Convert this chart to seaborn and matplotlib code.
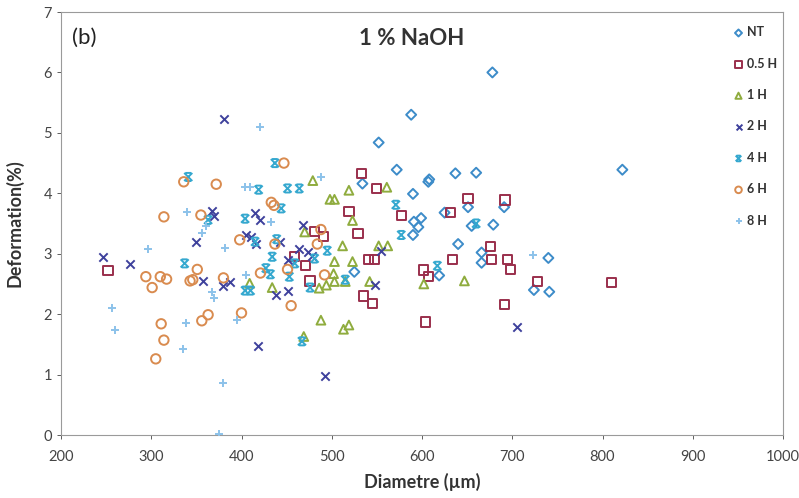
import matplotlib
matplotlib.use("Agg")
import matplotlib.pyplot as plt
from matplotlib.path import Path
import seaborn as sns
import pandas as pd

# ---- data (Diametre µm, Deformation %) ----
nt_x = [678, 588, 552, 572, 534, 637, 660, 607, 608, 590, 822, 591, 599, 596, 590,
        625, 651, 691, 655, 679, 640, 525, 619, 666, 666, 740, 724, 741]
nt_y = [6.00, 5.30, 4.84, 4.39, 4.16, 4.33, 4.34, 4.19, 4.23, 3.99, 4.39, 3.53, 3.59, 3.44, 3.31,
        3.68, 3.77, 3.77, 3.46, 3.48, 3.16, 2.70, 2.64, 3.02, 2.85, 2.93, 2.40, 2.37]

h05_x = [252, 459, 476, 533, 550, 519, 577, 632, 651, 692, 529, 481, 491, 471, 541, 547,
         602, 607, 634, 676, 677, 695, 698, 728, 810, 535, 545, 604, 691]
h05_y = [2.72, 2.96, 2.55, 4.33, 4.08, 3.70, 3.63, 3.68, 3.91, 3.89, 3.33, 3.37, 3.28, 2.81, 2.91, 2.90,
         2.73, 2.62, 2.90, 3.12, 2.91, 2.90, 2.74, 2.54, 2.52, 2.30, 2.17, 1.87, 2.16]

h1_x = [479, 519, 561, 498, 503, 523, 512, 552, 562, 503, 523, 502, 409, 434, 486, 494,
        503, 515, 542, 602, 647, 469, 488, 513, 519, 470]
h1_y = [4.21, 4.05, 4.10, 3.90, 3.90, 3.55, 3.13, 3.13, 3.13, 2.87, 2.87, 2.67, 2.51, 2.44, 2.43, 2.48,
        2.54, 2.54, 2.54, 2.50, 2.55, 1.63, 1.90, 1.75, 1.82, 3.36]

h2_x = [381, 367, 370, 415, 421, 350, 405, 411, 416, 443, 247, 277, 357, 380, 387, 438,
        451, 452, 464, 468, 474, 478, 548, 555, 418, 493, 705]
h2_y = [5.23, 3.70, 3.63, 3.67, 3.56, 3.20, 3.31, 3.28, 3.16, 3.20, 2.94, 2.83, 2.55, 2.47, 2.54, 2.32,
        2.39, 2.90, 3.08, 3.48, 3.03, 2.96, 2.48, 3.05, 1.47, 0.98, 1.78]

h4_x = [341, 437, 419, 451, 464, 444, 363, 404, 415, 439, 337, 434, 459, 453, 427, 432,
        404, 410, 476, 467, 571, 577, 617, 660, 495, 481, 515]
h4_y = [4.27, 4.50, 4.06, 4.08, 4.08, 3.75, 3.56, 3.58, 3.20, 3.24, 2.84, 2.95, 2.84, 2.62, 2.76, 2.66,
        2.39, 2.39, 2.44, 1.55, 3.81, 3.31, 2.80, 3.50, 3.05, 2.92, 2.57]

h6_x = [447, 336, 372, 433, 436, 314, 355, 398, 437, 351, 294, 310, 317, 301, 343, 346,
        380, 421, 451, 311, 314, 305, 356, 363, 400, 455, 488, 484, 492]
h6_y = [4.50, 4.19, 4.15, 3.85, 3.80, 3.61, 3.64, 3.23, 3.16, 2.74, 2.62, 2.62, 2.58, 2.44, 2.55, 2.57,
        2.60, 2.68, 2.74, 1.84, 1.57, 1.26, 1.89, 1.99, 2.02, 2.14, 3.40, 3.16, 2.65]

h8_x = [420, 488, 404, 409, 340, 433, 361, 356, 296, 382, 405, 367, 370, 256, 260, 338,
        335, 379, 375, 395, 723]
h8_y = [5.10, 4.27, 4.11, 4.10, 3.69, 3.52, 3.46, 3.34, 3.08, 3.09, 2.64, 2.37, 2.26, 2.10, 1.74, 1.86,
        1.43, 0.86, 0.02, 1.90, 2.98]

series = ["NT", "0.5 H", "1 H", "2 H", "4 H", "6 H", "8 H"]
xs = [nt_x, h05_x, h1_x, h2_x, h4_x, h6_x, h8_x]
ys = [nt_y, h05_y, h1_y, h2_y, h4_y, h6_y, h8_y]

# ---- styles ----
star = Path([(-1, -1), (1, 1), (-1, 1), (1, -1), (-0.7, 1), (0.7, 1), (-0.7, -1), (0.7, -1)],
            [Path.MOVETO, Path.LINETO, Path.MOVETO, Path.LINETO,
             Path.MOVETO, Path.LINETO, Path.MOVETO, Path.LINETO])
colors = ["#3d8cc9", "#9a2f4c", "#8fac3e", "#3e419c", "#35a8cf", "#d98b4f", "#8cc2ea"]
markers = ["D", "s", "^", "x", star, "o", "+"]
sizes = [26, 44, 40, 36, 34, 46, 40]
filled = [True, True, True, False, True, True, False]

sns.set_style("white")
plt.rcParams["font.family"] = ["Lato", "DejaVu Sans"]

fig = plt.figure(figsize=(7.99, 4.98), dpi=100)
ax = fig.add_axes([61 / 799, 1 - 435 / 498, (783 - 61) / 799, (435 - 12) / 498])

for name, x, y, c, m, s, f in zip(series, xs, ys, colors, markers, sizes, filled):
    df = pd.DataFrame({"Diametre": x, "Deformation": y})
    if f:
        sns.scatterplot(data=df, x="Diametre", y="Deformation", ax=ax, marker=m, s=s,
                        facecolor="none", edgecolor=c, linewidth=1.4, label=name, zorder=3)
    else:
        sns.scatterplot(data=df, x="Diametre", y="Deformation", ax=ax, marker=m, s=s,
                        color=c, linewidth=1.4, label=name, zorder=3)

ax.set_xlim(200, 1000)
ax.set_ylim(0, 7)
ax.set_xticks(range(200, 1001, 100))
ax.set_yticks(range(0, 8))
ax.tick_params(axis="both", labelsize=10.5, colors="#444444", length=3, width=0.6,
               direction="out", left=True, bottom=True)
ax.tick_params(axis="x", pad=8)
for sp in ax.spines.values():
    sp.set_color("#9a9a9a")
    sp.set_linewidth(0.8)

ax.set_xlabel("Diametre (µm)", fontsize=13, fontweight="bold", color="#333333", labelpad=6)
ax.set_ylabel("Deformation(%)", fontsize=13, fontweight="bold", color="#333333", labelpad=14)

fig.text(412 / 799, 1 - 38 / 498, "1 % NaOH", fontsize=16, fontweight="bold",
         color="#333333", ha="center", va="center")
fig.text(72 / 799, 1 - 38 / 498, "(b)", fontsize=16, color="#222222", ha="left", va="center")

leg = ax.legend(loc="upper left", bbox_to_anchor=(726 / 799, 1 - 20 / 498),
                bbox_transform=fig.transFigure, frameon=False, fontsize=9,
                labelspacing=1.55, handletextpad=0.2, handlelength=1.0, borderpad=0,
                markerscale=0.7)
for t in leg.get_texts():
    t.set_fontweight("bold")
    t.set_color("#333333")

fig.savefig("out.png", dpi=100)
